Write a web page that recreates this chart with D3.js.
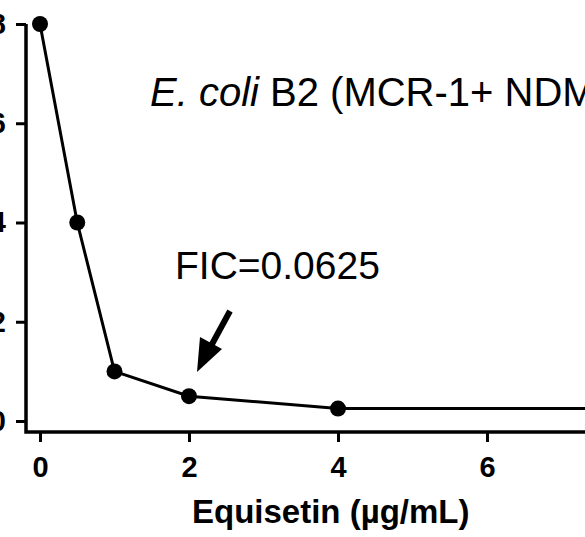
<!DOCTYPE html>
<html>
<head>
<meta charset="utf-8">
<script src="https://cdn.jsdelivr.net/npm/d3@7"></script>
<style>
  body { margin: 0; background: #fff; }
  svg { display: block; font-family: "Liberation Sans", Arial, sans-serif; }
</style>
</head>
<body>
<div id="chart"></div>
<script>
// Data
const concentrations = [0, 0.5, 1, 2, 4, 8]
const mics = [8, 4, 1, 0.5, 0.25, 0.25]
const xTicks = [0, 2, 4, 6, 8]
const yTicks = [0, 2, 4, 6, 8]
const strainLabel = ["E. coli", " B2 (MCR-1+ NDM-5+)"]
const ficLabel = "FIC=0.0625"
const xTitle = "Equisetin (\u00b5g/mL)"

const dataset = concentrations.map((c, i) => ({ x: c, y: mics[i] }))

const dimensions = { width: 585, height: 537 }

const svg = d3.select('#chart')
  .append('svg')
  .attr('width', dimensions.width)
  .attr('height', dimensions.height)

// Scales
const xScale = d3.scaleLinear().domain([0, 8]).range([40, 636])
const yScale = d3.scaleLinear().domain([0, 8]).range([421, 24])

const axisX = 26   // y axis line position
const axisY = 432  // x axis line position

// Axes
const xAxis = d3.axisBottom(xScale).tickValues(xTicks).tickSize(10).tickPadding(14)
const xAxisGroup = svg.append('g')
  .attr('transform', `translate(0, ${axisY})`)
  .call(xAxis)

const yAxis = d3.axisLeft(yScale).tickValues(yTicks).tickSize(10).tickPadding(10)
const yAxisGroup = svg.append('g')
  .attr('transform', `translate(${axisX}, 0)`)
  .call(yAxis)

for (const g of [xAxisGroup, yAxisGroup]) {
  g.attr('font-family', null)
  g.select('.domain').remove()
  g.selectAll('.tick line').attr('stroke', '#000').attr('stroke-width', 3)
  g.selectAll('.tick text')
    .attr('fill', '#000')
    .style('font-size', '29px')
    .style('font-weight', 'bold')
}

// axis lines (joined corner)
svg.append('path')
  .attr('d', `M${axisX},${yScale(8)}V${axisY}H${dimensions.width + 10}`)
  .attr('fill', 'none')
  .attr('stroke', '#000')
  .attr('stroke-width', 3.5)

// Line + points
const line = d3.line().x(d => xScale(d.x)).y(d => yScale(d.y))
svg.append('path')
  .datum(dataset)
  .attr('d', line)
  .attr('fill', 'none')
  .attr('stroke', '#000')
  .attr('stroke-width', 3)

svg.selectAll('circle')
  .data(dataset)
  .join('circle')
  .attr('cx', d => xScale(d.x))
  .attr('cy', d => yScale(d.y))
  .attr('r', 8)
  .attr('fill', '#000')

// Strain label
const strain = svg.append('text')
  .attr('x', 150)
  .attr('y', 106)
  .style('font-size', '40px')
strain.append('tspan').style('font-style', 'italic').text(strainLabel[0])
strain.append('tspan').attr('xml:space', 'preserve').text(strainLabel[1])

// FIC annotation
svg.append('text')
  .attr('x', 175)
  .attr('y', 279)
  .style('font-size', '39px')
  .text(ficLabel)

svg.append('line')
  .attr('x1', 230).attr('y1', 311)
  .attr('x2', 211).attr('y2', 346)
  .attr('stroke', '#000')
  .attr('stroke-width', 6)

svg.append('path')
  .attr('d', 'M197,372 L200,337 L222,349 Z')
  .attr('fill', '#000')

// Axis title
svg.append('text')
  .attr('x', 192)
  .attr('y', 523)
  .style('font-size', '33px')
  .style('font-weight', 'bold')
  .text(xTitle)
</script>
</body>
</html>
